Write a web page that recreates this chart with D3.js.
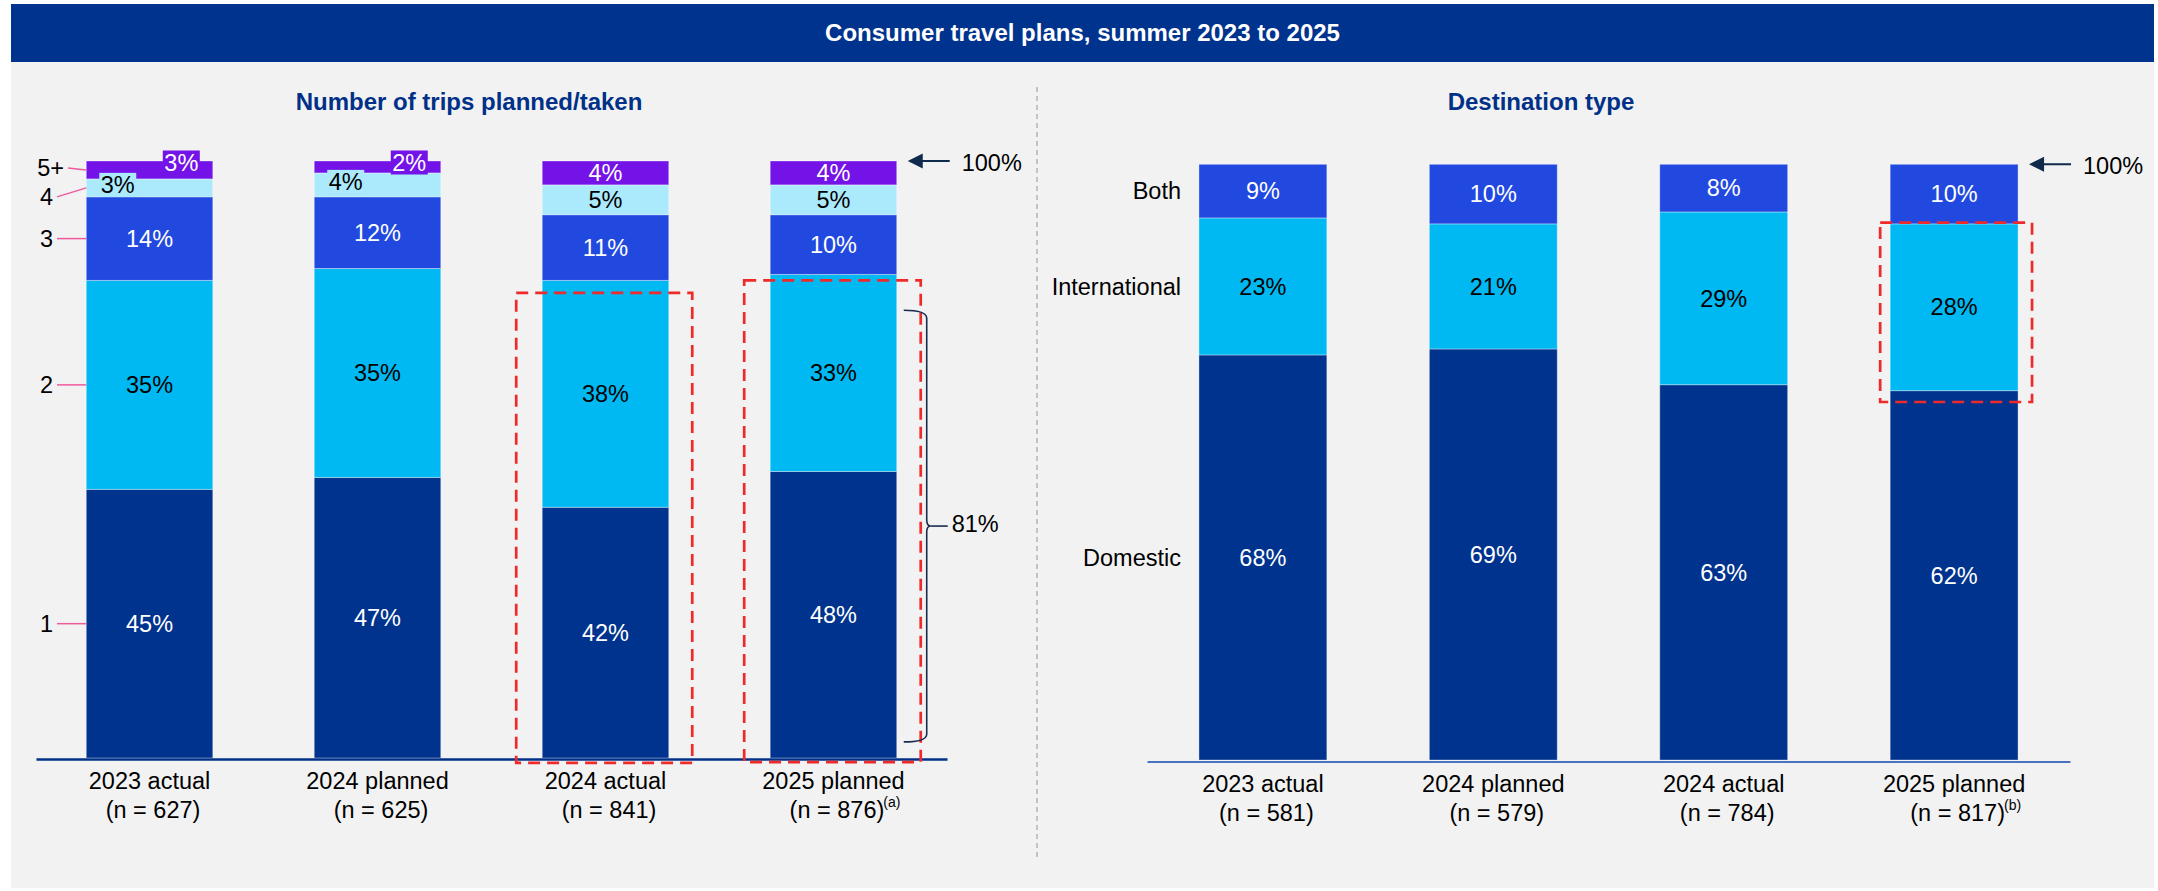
<!DOCTYPE html>
<html>
<head>
<meta charset="utf-8">
<script src="https://cdn.jsdelivr.net/npm/d3@7"></script>
<style>
  html, body { margin: 0; padding: 0; background: #ffffff; }
  svg { display: block; font-family: "Liberation Sans", Arial, Helvetica, sans-serif; }
</style>
</head>
<body>
<svg id="chart" width="2158" height="891"></svg>
<script>
// ---- Data -------------------------------------------------------------
const periods = ["2023 actual", "2024 planned", "2024 actual", "2025 planned"];

// Number of trips planned/taken (share of respondents, %)
const tripKeys = ["1", "2", "3", "4", "5+"];
const trips1 = [45, 47, 42, 48];
const trips2 = [35, 35, 38, 33];
const trips3 = [14, 12, 11, 10];
const trips4 = [3, 4, 5, 5];
const trips5 = [3, 2, 4, 4];
const tripSamples = [627, 625, 841, 876];
const tripNotes = ["", "", "", "(a)"];
const tripsOneOrTwo2025 = "81%";

// Destination type (share of respondents, %)
const destKeys = ["Domestic", "International", "Both"];
const domestic = [68, 69, 63, 62];
const international = [23, 21, 29, 28];
const both = [9, 10, 8, 10];
const destSamples = [581, 579, 784, 817];
const destNotes = ["", "", "", "(b)"];

// ---- Styling ----------------------------------------------------------
const NAVY = "#00338d", CYAN = "#00b9f2", ROYAL = "#2149e0", PALE = "#abe9fc", PURPLE = "#7413e8";
const tripColors = { "1": NAVY, "2": CYAN, "3": ROYAL, "4": PALE, "5+": PURPLE };
const tripText = { "1": "#fff", "2": "#000", "3": "#fff", "4": "#000", "5+": "#fff" };
const destColors = { "Domestic": NAVY, "International": CYAN, "Both": ROYAL };
const destText = { "Domestic": "#fff", "International": "#000", "Both": "#fff" };
const FONT = 23.5;

const svg = d3.select("#chart");

// Frame: header band and grey panel
svg.append("rect").attr("x", 11).attr("y", 4).attr("width", 2143).attr("height", 58).attr("fill", NAVY);
svg.append("text").attr("x", 1082.5).attr("y", 33).attr("dy", "0.35em")
  .attr("text-anchor", "middle").attr("fill", "#fff").attr("font-weight", "bold").attr("font-size", 24)
  .text("Consumer travel plans, summer 2023 to 2025");
svg.append("rect").attr("x", 11).attr("y", 62).attr("width", 2143).attr("height", 826).attr("fill", "#f2f2f2");

// Section titles
svg.append("text").attr("x", 469).attr("y", 101.5).attr("dy", "0.35em").attr("text-anchor", "middle")
  .attr("fill", "#003087").attr("font-weight", "bold").attr("font-size", 24).text("Number of trips planned/taken");
svg.append("text").attr("x", 1541).attr("y", 101.5).attr("dy", "0.35em").attr("text-anchor", "middle")
  .attr("fill", "#003087").attr("font-weight", "bold").attr("font-size", 24).text("Destination type");

// Divider between the two panels
svg.append("line").attr("x1", 1037).attr("x2", 1037).attr("y1", 87).attr("y2", 857)
  .attr("stroke", "#a8a8a8").attr("stroke-width", 1.3).attr("stroke-dasharray", "5,4");

// ---- Scales -----------------------------------------------------------
const xL = d3.scaleBand().domain(periods).range([36, 947]).paddingInner(0.445).paddingOuter(0.2205);
const yL = d3.scaleLinear().domain([0, 100]).range([758, 161]);
const xR = d3.scaleBand().domain(periods).range([1147, 2070]).paddingInner(0.445).paddingOuter(0.2255);
const yR = d3.scaleLinear().domain([0, 100]).range([760, 164.3]);

const tripRows = periods.map((p, i) => ({ period: p, "1": trips1[i], "2": trips2[i], "3": trips3[i], "4": trips4[i], "5+": trips5[i] }));
const destRows = periods.map((p, i) => ({ period: p, "Domestic": domestic[i], "International": international[i], "Both": both[i] }));

const tripStack = d3.stack().keys(tripKeys)(tripRows);
const destStack = d3.stack().keys(destKeys)(destRows);

function drawBars(g, stack, x, y, colors) {
  g.selectAll("g.series").data(stack).join("g").attr("class", "series")
    .attr("fill", d => colors[d.key])
    .selectAll("rect").data(d => d).join("rect")
    .attr("x", d => x(d.data.period))
    .attr("y", d => y(d[1]))
    .attr("width", x.bandwidth())
    .attr("height", d => y(d[0]) - y(d[1]))
    .attr("stroke", "rgba(255,255,255,0.35)")
    .attr("stroke-width", 1);
}

const gL = svg.append("g");
const gR = svg.append("g");
drawBars(gL, tripStack, xL, yL, tripColors);
drawBars(gR, destStack, xR, yR, destColors);

// ---- Value labels -----------------------------------------------------
// Thin top segments (5+ under 4%) get compact, boxed labels at the bar's top edge.
tripStack.forEach(series => {
  series.forEach((d, i) => {
    const v = d[1] - d[0];
    const bx = xL(d.data.period), bw = xL.bandwidth();
    const compact = trips5[i] < 4 && (series.key === "5+" || series.key === "4");
    let cx = bx + bw / 2, cy = (yL(d[0]) + yL(d[1])) / 2;
    if (compact) {
      if (series.key === "5+") { cx = bx + bw - 13 - 18.5; cy = yL(100) + 1.5; }
      else { cx = bx + 31.5; cy = cy - 3; }
      gL.append("rect").attr("x", cx - 18.5).attr("y", cy - 12).attr("width", 37).attr("height", 24)
        .attr("fill", tripColors[series.key]);
    }
    gL.append("text").attr("x", cx).attr("y", cy).attr("dy", "0.35em").attr("text-anchor", "middle")
      .attr("font-size", FONT).attr("fill", tripText[series.key]).text(v + "%");
  });
});

destStack.forEach(series => {
  series.forEach(d => {
    const v = d[1] - d[0];
    gR.append("text").attr("x", xR(d.data.period) + xR.bandwidth() / 2)
      .attr("y", (yR(d[0]) + yR(d[1])) / 2).attr("dy", "0.35em").attr("text-anchor", "middle")
      .attr("font-size", FONT).attr("fill", destText[series.key]).text(v + "%");
  });
});

// ---- Category labels at the first bar ---------------------------------
const labelShift = { "4": 9, "5+": -2 };
const labelEnd = { "1": 53, "2": 53, "3": 53, "4": 53, "5+": 64 };
tripStack.forEach(series => {
  const d = series[0];
  const mid = (yL(d[0]) + yL(d[1])) / 2;
  const ly = mid + (labelShift[series.key] || 0);
  const endX = labelEnd[series.key];
  gL.append("text").attr("x", endX).attr("y", ly).attr("dy", "0.35em").attr("text-anchor", "end")
    .attr("font-size", FONT).attr("fill", "#000").text(series.key);
  gL.append("line").attr("x1", endX + 4).attr("y1", ly).attr("x2", xL(d.data.period)).attr("y2", mid)
    .attr("stroke", "#ef5a9c").attr("stroke-width", 1.5);
});

destStack.forEach(series => {
  const d = series[0];
  gR.append("text").attr("x", 1181).attr("y", (yR(d[0]) + yR(d[1])) / 2).attr("dy", "0.35em")
    .attr("text-anchor", "end").attr("font-size", FONT).attr("fill", "#000").text(series.key);
});

// ---- Axes with two-line period labels ---------------------------------
function drawAxis(x, yPos, samples, notes, color, width) {
  const ax = svg.append("g").attr("transform", `translate(0,${yPos})`)
    .call(d3.axisBottom(x).tickSize(0).tickSizeOuter(0).tickFormat(""));
  ax.select(".domain").attr("stroke", color).attr("stroke-width", width);
  ax.selectAll(".tick text").remove();
  ax.selectAll(".tick").each(function (p, i) {
    const t = d3.select(this);
    t.append("text").attr("x", 0).attr("y", 30).attr("text-anchor", "middle")
      .attr("font-size", FONT).attr("fill", "#000").text(p);
    const n = t.append("text").attr("x", 3.5).attr("y", 59).attr("text-anchor", "start")
      .attr("font-size", FONT).attr("fill", "#000");
    n.append("tspan").text(`(n = ${samples[i]})`);
    const w = n.node().getComputedTextLength();
    n.attr("x", 3.5 - w / 2);
    if (notes[i]) {
      n.append("tspan").attr("font-size", 14).attr("dy", -11).attr("dx", -1).text(notes[i]);
    }
  });
  ax.raise();
}
drawAxis(xL, 759, tripSamples, tripNotes, "#003087", 2.5);
drawAxis(xR, 761.5, destSamples, destNotes, "#4a72c0", 2);

// ---- Annotations ------------------------------------------------------
function arrow100(xScale, yScale) {
  const last = periods[periods.length - 1];
  const tip = xScale(last) + xScale.bandwidth() + 11;
  const y = yScale(100);
  svg.append("line").attr("x1", tip + 10).attr("x2", tip + 42).attr("y1", y).attr("y2", y)
    .attr("stroke", "#0f2a4a").attr("stroke-width", 2);
  svg.append("path").attr("d", `M${tip},${y}L${tip + 15},${y - 7.5}L${tip + 15},${y + 7.5}Z`).attr("fill", "#0f2a4a");
  svg.append("text").attr("x", tip + 54).attr("y", y + 1.5).attr("dy", "0.35em")
    .attr("font-size", FONT).attr("fill", "#000").text("100%");
}
arrow100(xL, yL);
arrow100(xR, yR);

// Highlight boxes (value ranges in chart units)
const highlights = [
  { x: xL, y: yL, period: "2024 actual", from: -0.8, to: 77.9, padL: 26, padR: 23.5 },
  { x: xL, y: yL, period: "2025 planned", from: -0.7, to: 80, padL: 26, padR: 24 },
  { x: xR, y: yR, period: "2025 planned", from: 60.1, to: 90.2, padL: 10, padR: 14 }
];
highlights.forEach(h => {
  const x0 = h.x(h.period) - h.padL, x1 = h.x(h.period) + h.x.bandwidth() + h.padR;
  svg.append("rect").attr("x", x0).attr("y", h.y(h.to)).attr("width", x1 - x0)
    .attr("height", h.y(h.from) - h.y(h.to))
    .attr("fill", "none").attr("stroke", "#ee2a2a").attr("stroke-width", 2.7).attr("stroke-dasharray", "12,7");
});

// Brace grouping the 1- and 2-trip segments of 2025 planned
const braceSpan = [2.7, 75];
{
  const last = periods[periods.length - 1];
  const x0 = xL(last) + xL.bandwidth() + 7, x1 = x0 + 23;
  const yT = yL(braceSpan[1]), yB = yL(braceSpan[0]), yM = (yT + yB) / 2;
  const p = `M${x0},${yT} Q${x1},${yT} ${x1},${yT + 8} V${yM - 6} Q${x1},${yM} ${x1 + 4},${yM}` +
            ` Q${x1},${yM} ${x1},${yM + 6} V${yB - 8} Q${x1},${yB} ${x0},${yB}`;
  svg.append("path").attr("d", p).attr("fill", "none").attr("stroke", "#1a2c4e").attr("stroke-width", 1.6);
  svg.append("line").attr("x1", x1 + 4).attr("x2", x1 + 21).attr("y1", yM).attr("y2", yM)
    .attr("stroke", "#1a2c4e").attr("stroke-width", 1.6);
  svg.append("text").attr("x", x1 + 25).attr("y", yM - 2).attr("dy", "0.35em")
    .attr("font-size", FONT).attr("fill", "#000").text(tripsOneOrTwo2025);
}
</script>
</body>
</html>
